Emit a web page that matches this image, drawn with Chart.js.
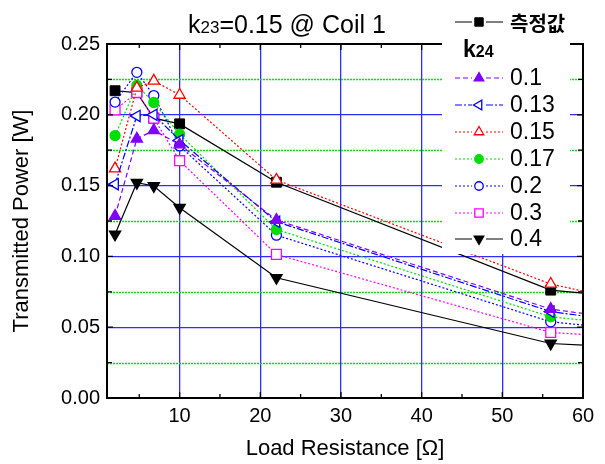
<!DOCTYPE html>
<html>
<head>
<meta charset="utf-8">
<script src="https://cdn.jsdelivr.net/npm/chart.js@4/dist/chart.umd.min.js"></script>
<style>
  html, body { margin: 0; padding: 0; background: #fff; }
  #wrap { width: 605px; height: 464px; }
</style>
</head>
<body>
<div id="wrap"><canvas id="myChart" width="605" height="464"></canvas></div>
<script>
// load resistance [ohm]; last point lies past the axis and only shows as the line leaving the plot
const resistance = [2, 4.7, 6.8, 10, 22, 56, 68];
const measured = [0.217, 0.2157, 0.1976, 0.1936, 0.1524, 0.0762, 0.0696];
const k24_010 = [0.1285, 0.183, 0.189, 0.179, 0.1257, 0.0628, 0.0535];
const k24_013 = [0.151, 0.1992, 0.200, 0.182, 0.1245, 0.061, 0.052];
const k24_015 = [0.162, 0.219, 0.224, 0.214, 0.154, 0.0805, 0.0655];
const k24_017 = [0.1853, 0.2207, 0.2087, 0.1863, 0.119, 0.0573, 0.0504];
const k24_020 = [0.209, 0.230, 0.2136, 0.178, 0.115, 0.0538, 0.047];
const k24_030 = [0.2035, 0.2157, 0.1976, 0.1676, 0.1014, 0.0463, 0.042];
const k24_040 = [0.1156, 0.152, 0.1497, 0.1344, 0.0849, 0.0385, 0.035];
const seriesLabels = ['0.1', '0.13', '0.15', '0.17', '0.2', '0.3', '0.4'];
const measuredLabel = '측정값';
const xTicks = [10, 20, 30, 40, 50, 60];
const yMinor = [0.025, 0.075, 0.125, 0.175, 0.225];

const FONT = "'Liberation Sans', Arial, sans-serif";
const GRID_BLUE = 'rgb(45,45,255)';
const GREEN = '#00dd00';

const toPoints = (values) => values.map((v, i) => ({ x: resistance[i], y: v }));

const styles = [
  { color: '#8000ff', dash: [5, 3], pointStyle: 'triangle', rotation: 0, fill: true, radius: 6.5 },
  { color: '#0000ff', dash: [7, 2, 2, 2], pointStyle: 'triangle', rotation: -90, fill: false, radius: 6.5 },
  { color: '#ff0000', dash: [2, 2], pointStyle: 'triangle', rotation: 0, fill: false, radius: 6.5 },
  { color: GREEN, dash: [2, 2], pointStyle: 'circle', rotation: 0, fill: true, radius: 5 },
  { color: '#0000ff', dash: [2, 2], pointStyle: 'circle', rotation: 0, fill: false, radius: 5 },
  { color: '#ff00ff', dash: [2, 2], pointStyle: 'rect', rotation: 0, fill: false, radius: 7 },
  { color: '#000000', dash: [], pointStyle: 'triangle', rotation: 180, fill: true, radius: 6.5 },
];
const seriesValues = [k24_010, k24_013, k24_015, k24_017, k24_020, k24_030, k24_040];

const datasets = seriesValues.map((vals, i) => {
  const s = styles[i];
  return {
    label: seriesLabels[i],
    data: toPoints(vals),
    borderColor: s.color,
    borderWidth: 1.2,
    borderDash: s.dash,
    pointStyle: s.pointStyle,
    pointRotation: s.rotation,
    pointRadius: s.radius,
    pointBorderWidth: 1.3,
    pointBorderColor: s.color,
    pointBackgroundColor: s.fill ? s.color : '#ffffff',
    tension: 0,
  };
});
datasets.push({
  label: measuredLabel,
  data: toPoints(measured),
  borderColor: '#000',
  borderWidth: 1.2,
  borderDash: [],
  pointStyle: 'rect',
  pointRotation: 0,
  pointRadius: 7,
  pointBorderWidth: 1,
  pointBorderColor: '#000',
  pointBackgroundColor: '#000',
  tension: 0,
});

const frame = {
  id: 'frame',
  beforeDatasetsDraw(chart) {
    const { ctx, chartArea: { left, right }, scales: { y } } = chart;
    ctx.save();
    ctx.strokeStyle = 'rgb(20,220,20)';
    ctx.lineWidth = 1.3;
    ctx.setLineDash([2, 1]);
    yMinor.forEach(v => {
      const py = Math.round(y.getPixelForValue(v)) + 0.5;
      ctx.beginPath();
      ctx.moveTo(Math.round(left), py);
      ctx.lineTo(right, py);
      ctx.stroke();
    });
    ctx.restore();
  },
  afterDatasetsDraw(chart) {
    const { ctx, chartArea: { left, top, right, bottom }, scales: { x, y } } = chart;
    ctx.save();
    ctx.strokeStyle = '#000';
    ctx.lineWidth = 2;
    ctx.strokeRect(left, top, right - left, bottom - top);

    // inward tick marks
    ctx.lineWidth = 1.3;
    ctx.beginPath();
    for (let v = 5; v < 60; v += 5) {
      const px = x.getPixelForValue(v);
      const len = v % 10 === 0 ? 6 : 4;
      ctx.moveTo(px, bottom); ctx.lineTo(px, bottom - len);
      ctx.moveTo(px, top); ctx.lineTo(px, top + len);
    }
    for (let v = 0.025; v < 0.25; v += 0.025) {
      const py = y.getPixelForValue(v);
      const len = Math.round(v * 1000) % 50 === 0 ? 6 : 5;
      ctx.moveTo(left, py); ctx.lineTo(left + len, py);
      ctx.moveTo(right, py); ctx.lineTo(right - len, py);
    }
    ctx.stroke();

    // legend panel
    ctx.fillStyle = '#fff';
    ctx.fillRect(442, 0, 128, 254);

    const drawEntry = (ds, cy, text, bold, size) => {
      ctx.save();
      ctx.strokeStyle = ds.borderColor;
      ctx.lineWidth = 1.2;
      ctx.setLineDash(ds.borderDash);
      ctx.beginPath();
      ctx.moveTo(455, cy); ctx.lineTo(472, cy);
      ctx.moveTo(486, cy); ctx.lineTo(503, cy);
      ctx.stroke();
      ctx.setLineDash([]);
      ctx.fillStyle = ds.pointBackgroundColor;
      ctx.strokeStyle = ds.pointBorderColor;
      ctx.lineWidth = ds.pointBorderWidth;
      Chart.helpers.drawPoint(ctx, {
        pointStyle: ds.pointStyle,
        rotation: ds.pointRotation,
        radius: ds.pointRadius * 0.85,
        borderWidth: ds.pointBorderWidth,
      }, 479, cy);
      ctx.fillStyle = '#000';
      ctx.font = (bold ? 'bold ' : '') + size;
      ctx.textBaseline = 'middle';
      ctx.textAlign = 'left';
      ctx.fillText(text, 510, cy + 1);
      ctx.restore();
    };

    const all = chart.data.datasets;
    drawEntry(all[all.length - 1], 22, measuredLabel, true, "20px 'Noto Sans CJK KR', sans-serif");

    ctx.fillStyle = '#000';
    ctx.textBaseline = 'alphabetic';
    ctx.textAlign = 'left';
    ctx.font = 'bold 23px ' + FONT;
    ctx.fillText('k', 463, 57);
    const kw = ctx.measureText('k').width;
    ctx.font = 'bold 16px ' + FONT;
    ctx.fillText('24', 463 + kw, 57);

    const rowY = [78, 105, 132, 159, 186, 213, 239];
    seriesLabels.forEach((lab, i) => {
      drawEntry(all[i], rowY[i], lab, false, '23px ' + FONT);
    });

    // right part of top frame after the legend panel
    ctx.strokeStyle = '#000';
    ctx.lineWidth = 2;
    ctx.beginPath();
    ctx.moveTo(570, top); ctx.lineTo(right + 1, top);
    ctx.stroke();

    // title with subscript
    ctx.fillStyle = '#000';
    ctx.textBaseline = 'alphabetic';
    let tx = 188;
    ctx.font = '25px ' + FONT;
    ctx.fillText('k', tx, 33);
    tx += ctx.measureText('k').width;
    ctx.font = '17px ' + FONT;
    ctx.fillText('23', tx, 33);
    tx += ctx.measureText('23').width;
    ctx.font = '25px ' + FONT;
    ctx.fillText('=0.15 @ Coil 1', tx, 33);
    ctx.restore();
  }
};

const config = {
  type: 'line',
  data: { datasets: datasets },
  options: {
    responsive: false,
    animation: false,
    layout: { padding: { top: 44, right: 22, left: 0, bottom: 0 } },
    plugins: {
      legend: { display: false },
      tooltip: { enabled: false },
    },
    scales: {
      x: {
        type: 'linear',
        min: 1,
        max: 60,
        afterBuildTicks(scale) {
          scale.ticks = xTicks.map(v => ({ value: v }));
        },
        afterFit(scale) { scale.height = 66; },
        border: { display: false },
        grid: {
          drawTicks: false,
          lineWidth: 1.3,
          color: (c) => (c.tick && c.tick.value < 59) ? GRID_BLUE : 'rgba(0,0,0,0)',
        },
        ticks: {
          padding: 6,
          color: '#000',
          font: { family: FONT, size: 20 },
          maxRotation: 0,
        },
        title: {
          display: true,
          text: 'Load Resistance [Ω]',
          color: '#000',
          font: { family: FONT, size: 22 },
          padding: { top: 0, bottom: 2 },
        },
      },
      y: {
        min: 0,
        max: 0.25,
        afterFit(scale) { scale.width = 107; },
        border: { display: false },
        grid: {
          drawTicks: false,
          lineWidth: 1.3,
          color: (c) => (c.tick && c.tick.value > 0.01 && c.tick.value < 0.24) ? GRID_BLUE : 'rgba(0,0,0,0)',
        },
        ticks: {
          stepSize: 0.05,
          padding: 7,
          color: '#000',
          font: { family: FONT, size: 20 },
          callback: (v) => v.toFixed(2),
        },
        title: {
          display: true,
          text: 'Transmitted Power [W]',
          color: '#000',
          font: { family: FONT, size: 22 },
          padding: { top: 9, bottom: 0 },
        },
      },
    },
  },
  plugins: [frame],
};

new Chart(document.getElementById('myChart').getContext('2d'), config);
</script>
</body>
</html>
